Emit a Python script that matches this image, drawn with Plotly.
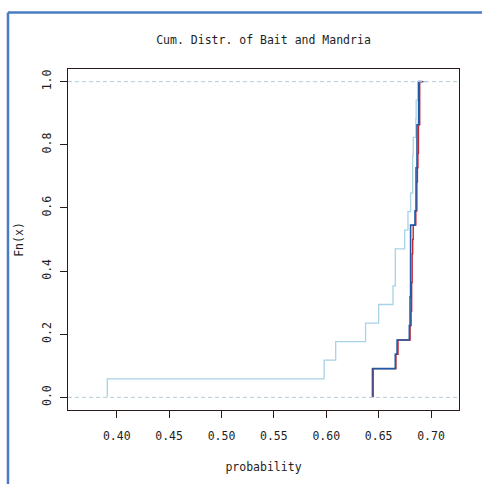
import numpy as np
import plotly.graph_objects as go

# ---- data ----
bait = [0.391, 0.598, 0.609, 0.6375, 0.650, 0.6637, 0.6659, 0.6659, 0.6748,
        0.678, 0.6805, 0.6825, 0.6825, 0.6830, 0.6855, 0.6858, 0.6875]
mandria_red = [0.6440, 0.6440, 0.6665, 0.6685, 0.6800, 0.6810, 0.6815, 0.6815,
               0.6820, 0.6820, 0.6825, 0.6830, 0.6855, 0.6865, 0.6865, 0.6870,
               0.6875, 0.6880, 0.6880, 0.6892, 0.6892, 0.6892]
mandria_blue = [0.6447, 0.6447, 0.6659, 0.6676, 0.6793, 0.6800, 0.6800, 0.6805,
                0.6805, 0.6805, 0.6805, 0.6805, 0.6847, 0.6857, 0.6857, 0.6857,
                0.6866, 0.6866, 0.6866, 0.6882, 0.6882, 0.6882]
x_ticks = [0.40, 0.45, 0.50, 0.55, 0.60, 0.65, 0.70]
y_ticks = [0.0, 0.2, 0.4, 0.6, 0.8, 1.0]

FONT = "DejaVu Sans Mono"
TXT = "#1e1e1e"


def ecdf_steps(vals):
    v = np.sort(np.asarray(vals, float))
    u = np.unique(v)
    n = len(v)
    y = [np.searchsorted(v, t, side="right") / n for t in u]
    span = u[-1] - u[0]
    d = max(0.08 * span, float(np.median(np.diff(u)))) if len(u) > 1 else 0.01
    d = min(d, 0.009)
    xs = [u[0]] + list(u) + [u[-1] + d]
    ys = [0.0] + y + [1.0]
    return xs, ys


fig = go.Figure()

xr = [0.3535, 0.7267]

for vals, col, w in [(bait, "#a8d2e6", 1.3),
                     (mandria_red, "#c4262e", 1.4),
                     (mandria_blue, "#1f5aa6", 1.6)]:
    xs, ys = ecdf_steps(vals)
    fig.add_trace(go.Scatter(x=xs, y=ys, mode="lines", line_shape="hv",
                             line=dict(color=col, width=w), showlegend=False))

# dashed reference lines at 0 and 1
for h in (0.0, 1.0):
    fig.add_trace(go.Scatter(x=xr, y=[h, h], mode="lines",
                             line=dict(color="#b4ccd8", width=1, dash="4px,3px"),
                             hoverinfo="skip", showlegend=False))

axis_common = dict(showline=True, mirror=True, linecolor="#2a1a1a", linewidth=1,
                   showgrid=False, zeroline=False, ticks="outside", ticklen=7,
                   tickcolor="#2a1a1a", tickwidth=1,
                   tickfont=dict(family=FONT, size=11.5, color=TXT))

fig.update_xaxes(range=xr, tickvals=x_ticks, tickformat=".2f", ticklabelstandoff=8,
                 title=dict(text="probability", font=dict(family=FONT, size=11.5, color=TXT),
                            standoff=21),
                 **axis_common)
fig.update_yaxes(range=[-0.04, 1.04], tickvals=y_ticks, tickformat=".1f", tickangle=-90,
                 ticklabelstandoff=4,
                 title=dict(text="Fn(x)", font=dict(family=FONT, size=11.5, color=TXT),
                            standoff=14),
                 **axis_common)

frame = dict(color="#4a7cc4", width=2.5)
fig.update_layout(
    width=482, height=484,
    margin=dict(l=68, r=23, t=69, b=66),
    paper_bgcolor="white", plot_bgcolor="white",
    title=dict(text="Cum. Distr. of Bait and Mandria", xref="paper", x=0.5,
               xanchor="center", y=1 - 40 / 484, yanchor="middle",
               font=dict(family=FONT, size=11.5, color=TXT)),
    shapes=[
        dict(type="line", xref="paper", yref="paper",
             x0=-0.1535, x1=-0.1535, y0=-0.6, y1=1.166, line=frame, layer="above"),
        dict(type="line", xref="paper", yref="paper",
             x0=-0.1535, x1=1.6, y0=1.166, y1=1.166, line=frame, layer="above"),
    ],
)

fig.write_html("out.html",
               config={"displayModeBar": False},
               post_script="document.body.style.margin='0';"
                           "document.body.style.overflow='hidden';")
